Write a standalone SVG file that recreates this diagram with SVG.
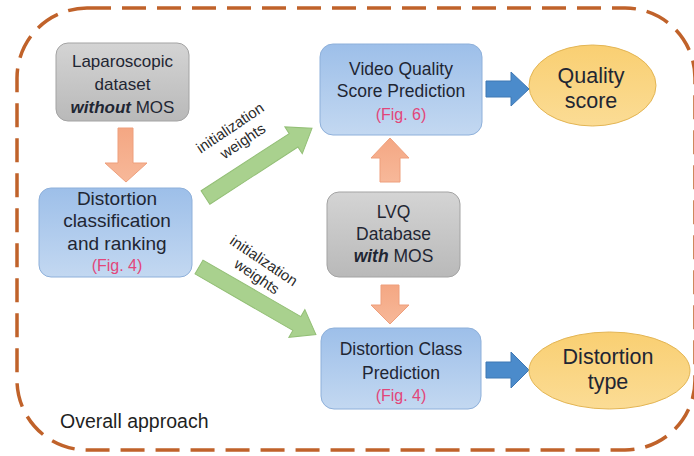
<svg xmlns="http://www.w3.org/2000/svg" width="694" height="456" viewBox="0 0 694 456">
<defs>
<linearGradient id="gBlue" x1="0" y1="0" x2="0" y2="1"><stop offset="0" stop-color="#9dbfe9"/><stop offset="1" stop-color="#c3d8f1"/></linearGradient>
<linearGradient id="gGray" x1="0" y1="0" x2="0" y2="1"><stop offset="0" stop-color="#d4d4d4"/><stop offset="1" stop-color="#b9b9b9"/></linearGradient>
<linearGradient id="gYel" x1="0" y1="0" x2="0" y2="1"><stop offset="0" stop-color="#f9cf72"/><stop offset="1" stop-color="#fbdc95"/></linearGradient>
<linearGradient id="gOr" x1="0" y1="0" x2="0" y2="1"><stop offset="0" stop-color="#f4a783"/><stop offset="1" stop-color="#f7b899"/></linearGradient>
</defs>
<style>
.t{font-family:"Liberation Sans",Arial,sans-serif;fill:#1f2633;text-anchor:middle}
.bx{fill:url(#gBlue);stroke:#8eb0da;stroke-width:1}
.gx{fill:url(#gGray);stroke:#a3a3a3;stroke-width:1}
.el{fill:url(#gYel);stroke:#e3b554;stroke-width:1}
.fig{fill:#e2467a}
.oa{fill:url(#gOr);stroke:#ee9f7c;stroke-width:1}
.ba{fill:#4b8bcb;stroke:#3f78b4;stroke-width:1}
.ga{fill:#a9d18e;stroke:#93bf76;stroke-width:1}
.lab{font-family:"Liberation Sans",Arial,sans-serif;font-size:15px;fill:#2a2a2a;text-anchor:middle}
</style>
<rect x="17" y="8" width="678" height="442" rx="70" ry="70" fill="none" stroke="#c0622a" stroke-width="3.5" stroke-dasharray="24 11"/>
<text x="60" y="428" font-family="Liberation Sans, Arial, sans-serif" font-size="19.5" fill="#1f1f1f">Overall approach</text>

<g id="connectors">
<polygon class="oa" points="118,128 133,128 133,163 147,163 126,182 105,163 118,163"/>
<polygon class="oa" points="380,182 380,158 371,158 390,138 409,158 400,158 400,182"/>
<polygon class="oa" points="381,285 399,285 399,305 409,305 390,324 371,305 381,305"/>
<polygon class="ba" points="486,81 511,81 511,72 529,89 511,106 511,97 486,97"/>
<polygon class="ba" points="486,362 511,362 511,352 529,370 511,388 511,378 486,378"/>
<polygon class="ga" transform="translate(205.5,197.5) rotate(-33)" points="0,-8 105,-8 105,-16 127,0 105,16 105,8 0,8"/>
<polygon class="ga" transform="translate(199,267) rotate(30)" points="0,-8 113,-8 113,-16 135,0 113,16 113,8 0,8"/>
<text class="lab" transform="translate(233,132) rotate(-34)"><tspan x="0" y="0">initialization</tspan><tspan x="3" y="18">weights</tspan></text>
<text class="lab" transform="translate(261,265) rotate(34)"><tspan x="0" y="0">initialization</tspan><tspan x="3" y="17">weights</tspan></text>
</g>

<g id="laparoscopic">
<rect class="gx" x="56" y="43" width="133" height="78" rx="12"/>
<text class="t" font-size="17"><tspan x="122.5" y="67">Laparoscopic</tspan><tspan x="122.5" y="90">dataset</tspan><tspan x="122.5" y="113"><tspan font-weight="bold" font-style="italic">without</tspan> MOS</tspan></text>
</g>

<g id="distortion-ranking">
<rect class="bx" x="39" y="188" width="153" height="89" rx="12"/>
<text class="t" font-size="19"><tspan x="117" y="205">Distortion</tspan><tspan x="117" y="227">classification</tspan><tspan x="117" y="250">and ranking</tspan></text>
<text class="t fig" font-size="16" x="117" y="271">(Fig. 4)</text>
</g>

<g id="vqs-prediction">
<rect class="bx" x="320" y="44" width="162" height="91" rx="13"/>
<text class="t" font-size="17.5"><tspan x="401" y="75">Video Quality</tspan><tspan x="401" y="97">Score Prediction</tspan></text>
<text class="t fig" font-size="16" x="401" y="120">(Fig. 6)</text>
</g>

<g id="lvq-database">
<rect class="gx" x="327" y="192" width="133" height="85" rx="12"/>
<text class="t" font-size="17.5"><tspan x="393.5" y="218">LVQ</tspan><tspan x="393.5" y="240">Database</tspan><tspan x="393.5" y="262"><tspan font-weight="bold" font-style="italic">with</tspan> MOS</tspan></text>
</g>

<g id="dc-prediction">
<rect class="bx" x="321" y="328" width="160" height="81" rx="13"/>
<text class="t" font-size="17.5"><tspan x="401" y="355">Distortion Class</tspan><tspan x="401" y="379">Prediction</tspan></text>
<text class="t fig" font-size="16" x="401" y="401">(Fig. 4)</text>
</g>

<g id="quality-score">
<ellipse class="el" cx="592.5" cy="85.5" rx="63.5" ry="40.5"/>
<text class="t" font-size="21.5"><tspan x="591" y="83">Quality</tspan><tspan x="591" y="108">score</tspan></text>
</g>

<g id="distortion-type">
<ellipse class="el" cx="609.5" cy="370.5" rx="80.5" ry="38.5"/>
<text class="t" font-size="21.5"><tspan x="608" y="364">Distortion</tspan><tspan x="608" y="389">type</tspan></text>
</g>
</svg>
